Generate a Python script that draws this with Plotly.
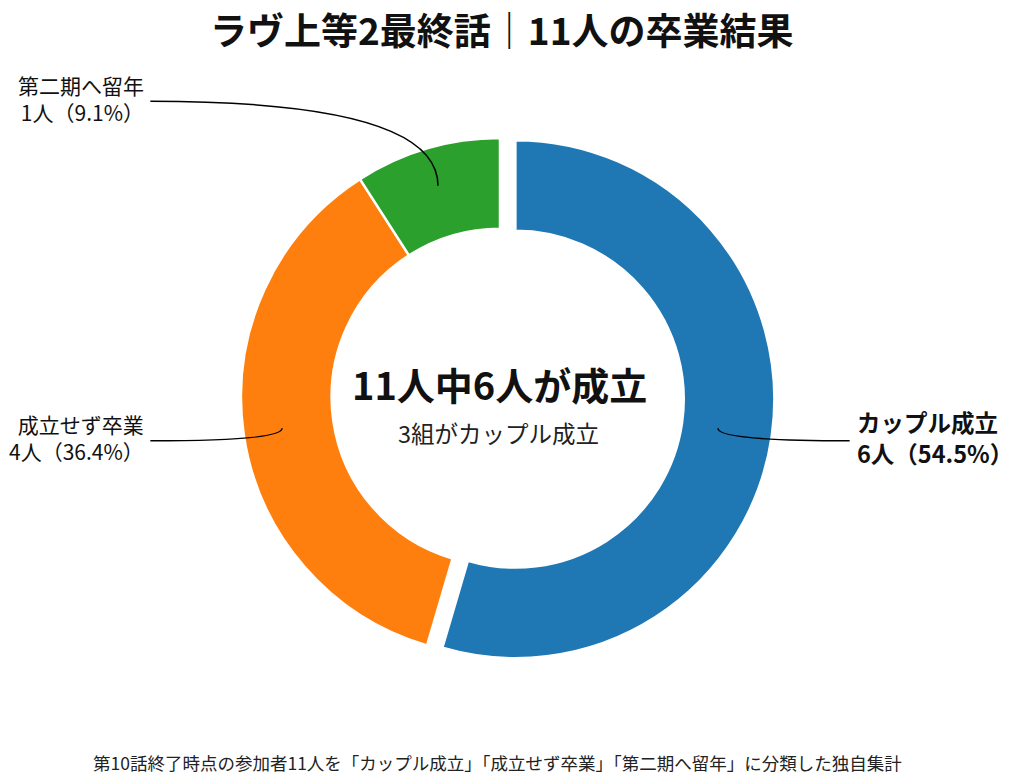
import numpy as np
import plotly.graph_objects as go

# 集計データ
categories = ["カップル成立", "成立せず卒業", "第二期へ留年"]
counts = [6, 4, 1]
colors = ["#1f77b4", "#ff7f0e", "#2ca02c"]
pulls = [0.06, 0, 0]

title_text = "ラヴ上等2最終話｜11人の卒業結果"
center_main = "11人中6人が成立"
center_sub = "3組がカップル成立"
footnote = "第10話終了時点の参加者11人を「カップル成立」「成立せず卒業」「第二期へ留年」に分類した独自集計"

FONT = "Noto Sans CJK JP"

# キャンバスとドーナツの配置（ピクセル）
W, H = 1024, 783
cx, cy, r = 500, 397, 259
HOLE = 0.65

R = r * (1 + max(pulls))
dom_x = [(cx - R) / W, (cx + R) / W]
dom_y = [1 - (cy + R) / H, 1 - (cy - R) / H]


def to_paper(x, y):
    # 単位円座標（上が正）→ paper座標
    return (cx + r * x) / W, 1 - (cy - r * y) / H


fig = go.Figure(go.Pie(
    labels=categories,
    values=counts,
    sort=False,
    direction="clockwise",
    rotation=0,
    hole=HOLE,
    pull=pulls,
    marker=dict(colors=colors, line=dict(color="white", width=2.5)),
    textinfo="none",
    hoverinfo="label+value+percent",
    showlegend=False,
    domain=dict(x=dom_x, y=dom_y),
))

total = sum(counts)
cum = np.cumsum(counts)
shapes = []
annotations = []
for i, (cat, v) in enumerate(zip(categories, counts)):
    theta = np.deg2rad(360 * (cum[i] - v / 2) / total)
    ax, ay = 0.85 * np.sin(theta), 0.85 * np.cos(theta)
    lx, ly = 1.35 * np.sign(ax), 1.4 * ay
    px0, py0 = to_paper(lx, ly)
    pxa, pya = to_paper(ax, ay)
    shapes.append(dict(
        type="path", xref="paper", yref="paper",
        path=f"M {px0},{py0} Q {pxa},{py0} {pxa},{pya}",
        line=dict(color="black", width=1.5),
    ))
    pct = v / total * 100
    head = f"<b>{cat}</b>" if i == 0 else cat
    tail = f"<b>{v}人（{pct:.1f}%）</b>" if i == 0 else f"{v}人（{pct:.1f}%）"
    right = lx > 0
    annotations.append(dict(
        x=px0, y=py0, xref="paper", yref="paper",
        text=f"{head}<br>{tail}",
        showarrow=False,
        xanchor="left" if right else "right",
        yanchor="middle",
        align="left" if right else "right",
        xshift=5 if right else -4,
        yshift=3,
        font=dict(family=FONT, size=23.5 if i == 0 else 21, color="#111111"),
    ))


def center_note(x, y, text, size, color="#111111"):
    return dict(x=x / W, y=1 - y / H, xref="paper", yref="paper", showarrow=False,
                xanchor="center", yanchor="middle", text=text,
                font=dict(family=FONT, size=size, color=color))


annotations += [
    center_note(499, 383, f"<b>{center_main}</b>", 38),
    center_note(498, 433, center_sub, 23.5, "#222222"),
    center_note(502, 29, f"<b>{title_text}</b>", 37),
    center_note(497, 762, footnote, 17.5, "#222222"),
]

fig.update_layout(
    width=W, height=H,
    margin=dict(l=0, r=0, t=0, b=0),
    paper_bgcolor="white",
    plot_bgcolor="white",
    shapes=shapes,
    annotations=annotations,
)

fig.write_html("out.html", config={"displayModeBar": False},
               post_script="document.body.style.margin='0';")
